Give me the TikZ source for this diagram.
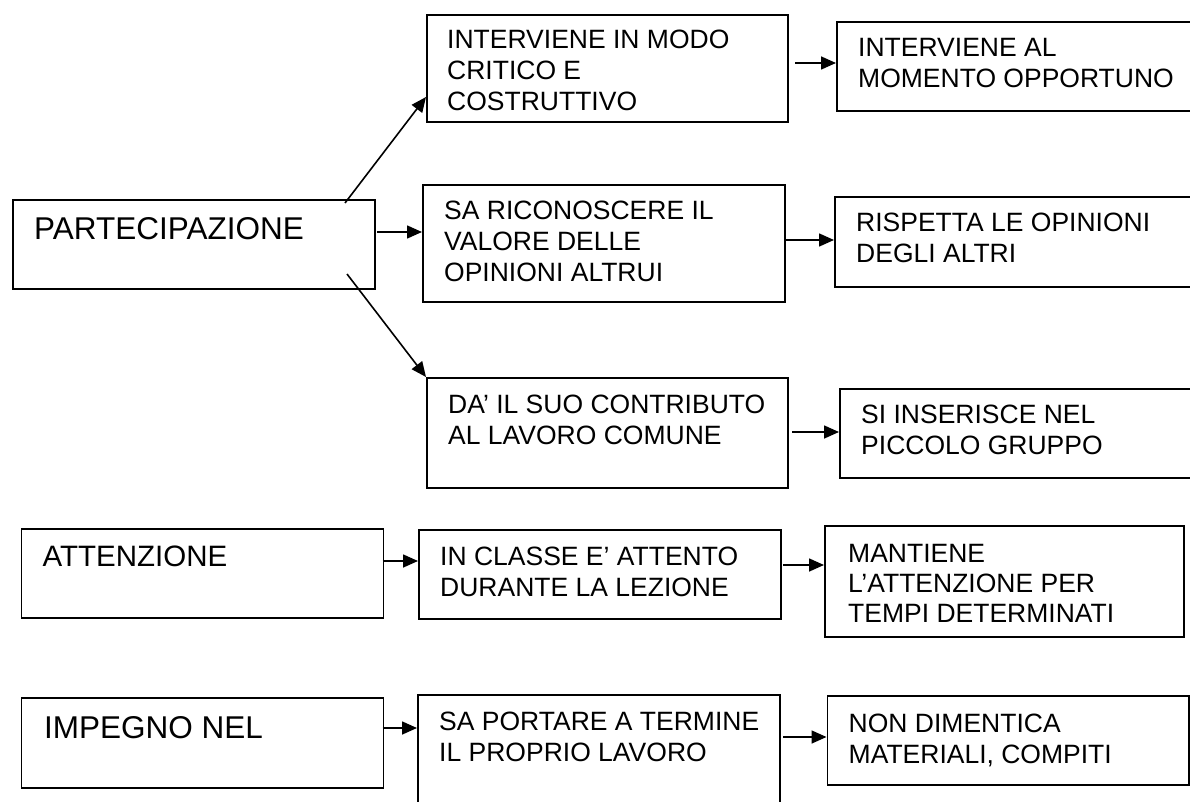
\documentclass[tikz,border=0pt]{standalone}
\usepackage{fontspec}
\setmainfont{Liberation Sans}
\usetikzlibrary{arrows.meta,calc}
% stacked lines whose reference point is the first baseline
\newcommand\stk[1]{\begin{tabular}[t]{@{}l@{}}#1\end{tabular}}
\tikzset{
  frame/.style={draw, line width=1.6pt, inner sep=0pt, anchor=north west},
  txt/.style={anchor=base west, inner sep=0pt,
    font=\fontsize{26.5}{31}\selectfont},
  bigtxt/.style={anchor=base west, inner sep=0pt,
    font=\fontsize{31.5}{36}\selectfont},
  arr/.style={line width=1.6pt, -{Triangle[length=15pt,width=13pt]}},
}
\begin{document}
\begin{tikzpicture}[x=1pt,y=-1pt]
\useasboundingbox (0,0) rectangle (1190,802);
\clip (0,0) rectangle (1190,802);

% --- PARTECIPAZIONE branch ---
\node[frame, minimum width=362pt, minimum height=89pt]  (part) at (12,199) {};
\node[bigtxt] (partT) at ($(part.north west)+(22,41)$) {PARTECIPAZIONE};

\node[frame, minimum width=361pt, minimum height=107pt] (crit) at (426,14) {};
\node[txt] (critT) at ($(crit.north west)+(21,35)$) {\stk{INTERVIENE IN MODO\\CRITICO E\\COSTRUTTIVO}};

\node[frame, minimum width=380pt, minimum height=89pt]  (mom) at (836,21) {};
\node[txt] (momT) at ($(mom.north west)+(22,36)$) {\stk{INTERVIENE AL\\MOMENTO OPPORTUNO}};

\node[frame, minimum width=362pt, minimum height=117pt] (val) at (422,184) {};
\node[txt] (valT) at ($(val.north west)+(22,36)$) {\stk{SA RICONOSCERE IL\\VALORE DELLE\\OPINIONI ALTRUI}};

\node[frame, minimum width=380pt, minimum height=90pt]  (risp) at (834,196) {};
\node[txt] (rispT) at ($(risp.north west)+(22,36)$) {\stk{RISPETTA LE OPINIONI\\DEGLI ALTRI}};

\node[frame, minimum width=361pt, minimum height=110pt] (contr) at (426,377) {};
\node[txt] (contrT) at ($(contr.north west)+(22,36)$) {\stk{DA’ IL SUO CONTRIBUTO\\AL LAVORO COMUNE}};

\node[frame, minimum width=380pt, minimum height=89pt]  (grup) at (839,388) {};
\node[txt] (grupT) at ($(grup.north west)+(22,35)$) {\stk{SI INSERISCE NEL\\PICCOLO GRUPPO}};

% --- ATTENZIONE row ---
\node[frame, minimum width=362pt, minimum height=89pt]  (att) at (20.5,528) {};
\node[bigtxt, font=\fontsize{29.5}{34}\selectfont] (attT) at ($(att.north west)+(22,38)$) {ATTENZIONE};

\node[frame, minimum width=362pt, minimum height=89pt]  (cls) at (418,529) {};
\node[txt] (clsT) at ($(cls.north west)+(22,36)$) {\stk{IN CLASSE E’ ATTENTO\\DURANTE LA LEZIONE}};

\node[frame, minimum width=359pt, minimum height=111pt] (mant) at (824,525) {};
\node[txt, font=\fontsize{26.5}{30}\selectfont] (mantT) at ($(mant.north west)+(24,37)$) {\stk{MANTIENE\\L’ATTENZIONE PER\\TEMPI DETERMINATI}};

% --- IMPEGNO row ---
\node[frame, minimum width=362pt, minimum height=90pt]  (imp) at (20.5,697) {};
\node[bigtxt] (impT) at ($(imp.north west)+(23.5,41)$) {IMPEGNO NEL};

\node[frame, minimum width=362pt, minimum height=130pt] (port) at (417,694) {};
\node[txt] (portT) at ($(port.north west)+(22,36)$) {\stk{SA PORTARE A TERMINE\\IL PROPRIO LAVORO}};

\node[frame, minimum width=361.5pt, minimum height=89pt] (mat) at (826.5,695) {};
\node[txt] (matT) at ($(mat.north west)+(22,37)$) {\stk{NON DIMENTICA\\MATERIALI, COMPITI}};

% --- connectors ---
\coordinate (pUp) at (345,203);
\coordinate (pDn) at (347,274);
\coordinate (pMid) at (377,232);
\coordinate (critOut) at (795,63);
\coordinate (valOut) at (786,240);
\coordinate (contrOut) at (792,432);
\coordinate (attOut) at (382.5,561);
\coordinate (clsOut) at (783,565);
\coordinate (impOut) at (382.5,728);
\coordinate (portOut) at (783,737);

\draw[arr] (pUp) -- (crit.west |- 0,97);
\draw[arr] (pDn) -- (contr.north west);
\draw[arr] (pMid) -- (pMid -| val.west);
\draw[arr] (critOut) -- (critOut -| mom.west);
\draw[arr] (valOut) -- (valOut -| risp.west);
\draw[arr] (contrOut) -- (contrOut -| grup.west);
\draw[arr] (attOut) -- (attOut -| cls.west);
\draw[arr] (clsOut) -- (clsOut -| mant.west);
\draw[arr] (impOut) -- (impOut -| port.west);
\draw[arr] (portOut) -- (portOut -| mat.west);
\end{tikzpicture}
\end{document}
